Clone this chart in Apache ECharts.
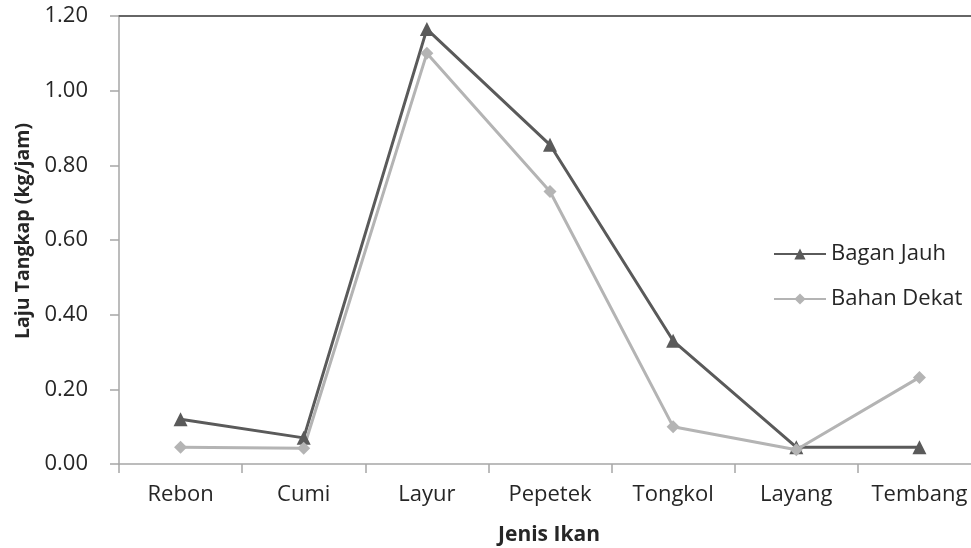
<!DOCTYPE html>
<html>
<head>
<meta charset="utf-8">
<script src="https://cdn.jsdelivr.net/npm/echarts@6/dist/echarts.min.js"></script>
<style>html,body{margin:0;padding:0;background:#fff}#c{width:971px;height:548px}</style>
</head>
<body>
<div id="c"></div>
<script>
const categories = ["Rebon", "Cumi", "Layur", "Pepetek", "Tongkol", "Layang", "Tembang"];
const baganJauh = [0.12, 0.07, 1.165, 0.855, 0.33, 0.045, 0.045];
const bahanDekat = [0.045, 0.042, 1.10, 0.73, 0.10, 0.038, 0.232];
const yTicks = [0, 0.2, 0.4, 0.6, 0.8, 1.0, 1.2];

const FONT = "Open Sans";
const FS = 22;
const chart = echarts.init(document.getElementById('c'), null, {renderer: 'canvas'});
chart.setOption({
  animation: false,
  backgroundColor: '#fff',
  textStyle: {fontFamily: FONT},
  grid: {left: 119, top: 16, width: 862, height: 448, containLabel: false, outerBoundsMode: 'none'},
  legend: {
    orient: 'vertical', left: 768, top: 238, itemWidth: 52, itemHeight: 14, itemGap: 23,
    textStyle: {fontFamily: FONT, fontSize: FS, color: '#262626'},
    data: ['Bagan Jauh', 'Bahan Dekat']
  },
  xAxis: [{
    type: 'category', data: categories, boundaryGap: true,
    axisLine: {show: true, lineStyle: {color: '#a6a6a6', width: 1.5}},
    axisTick: {show: true, interval: 0, length: 9, inside: false, lineStyle: {color: '#a6a6a6', width: 1.5}},
    axisLabel: {interval: 0, hideOverlap: false, fontFamily: FONT, fontSize: FS, color: '#262626', margin: 20},
    splitLine: {show: false}
  }, {
    type: 'category', data: categories, position: 'top', boundaryGap: true,
    axisLine: {show: true, lineStyle: {color: '#666666', width: 2}},
    axisTick: {show: false}, axisLabel: {show: false}, splitLine: {show: false}
  }],
  yAxis: {
    type: 'value', min: 0, max: 1.2, interval: 0.2,
    axisLine: {show: true, lineStyle: {color: '#a6a6a6', width: 1.5}},
    axisTick: {show: true, length: 9, lineStyle: {color: '#a6a6a6', width: 1.5}},
    axisLabel: {fontFamily: FONT, fontSize: FS, color: '#262626', margin: 31,
      formatter: v => { const t = yTicks.find(x => Math.abs(x - v) < 1e-9); return (t !== undefined ? t : v).toFixed(2); }},
    splitLine: {show: false}
  },
  graphic: [
    {type: 'text', x: 549, y: 535, style: {text: 'Jenis Ikan', font: 'bold 21px ' + FONT, fill: '#262626', align: 'center', verticalAlign: 'middle'}},
    {type: 'text', x: 23, y: 231, rotation: Math.PI / 2, style: {text: 'Laju Tangkap (kg/jam)', font: 'bold 19.5px ' + FONT, fill: '#262626', align: 'center', verticalAlign: 'middle'}}
  ],
  series: [{
    name: 'Bagan Jauh', type: 'line', data: baganJauh, xAxisIndex: 0,
    symbol: 'triangle', symbolSize: 14, showSymbol: true,
    lineStyle: {color: '#5a5a5a', width: 3},
    itemStyle: {color: '#5a5a5a'}
  }, {
    name: 'Bahan Dekat', type: 'line', data: bahanDekat, xAxisIndex: 0,
    symbol: 'diamond', symbolSize: 13, showSymbol: true,
    lineStyle: {color: '#b4b4b4', width: 3},
    itemStyle: {color: '#b4b4b4'}
  }]
});
</script>
</body>
</html>
